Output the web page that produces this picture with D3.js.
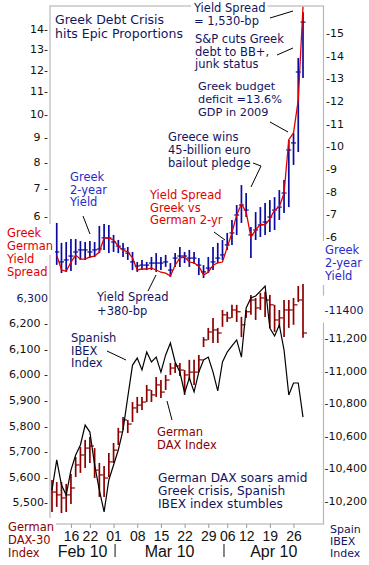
<!DOCTYPE html>
<html>
<head>
<meta charset="utf-8">
<script src="https://cdn.jsdelivr.net/npm/d3@7"></script>
<style>
  body { margin: 0; background: #fff; }
  svg { display: block; font-family: "DejaVu Sans", Verdana, sans-serif; }
  .narrow { font-family: "Liberation Sans Narrow", "Liberation Sans", Arial, sans-serif; font-stretch: condensed; }
</style>
</head>
<body>
<div id="chart"></div>
<script>
"use strict";

// trading days, Feb 10 - Apr 28 2010
var dates = ["2010-02-10","2010-02-11","2010-02-12","2010-02-15","2010-02-16","2010-02-17","2010-02-18","2010-02-19",
  "2010-02-22","2010-02-23","2010-02-24","2010-02-25","2010-02-26","2010-03-01","2010-03-02","2010-03-03","2010-03-04",
  "2010-03-05","2010-03-08","2010-03-09","2010-03-10","2010-03-11","2010-03-12","2010-03-15","2010-03-16","2010-03-17",
  "2010-03-18","2010-03-19","2010-03-22","2010-03-23","2010-03-24","2010-03-25","2010-03-26","2010-03-29","2010-03-30",
  "2010-03-31","2010-04-01","2010-04-06","2010-04-07","2010-04-08","2010-04-09","2010-04-12","2010-04-13","2010-04-14",
  "2010-04-15","2010-04-16","2010-04-19","2010-04-20","2010-04-21","2010-04-22","2010-04-23","2010-04-26","2010-04-27",
  "2010-04-28"];
var tickDates = ["2010-02-16","2010-02-22","2010-03-01","2010-03-08","2010-03-15","2010-03-22","2010-03-29",
  "2010-04-06","2010-04-12","2010-04-19","2010-04-26"];
var monthLabels = ["Feb 10", "Mar 10", "Apr 10"];
var monthStarts = ["2010-02-10", "2010-03-01", "2010-04-01"];

// Greek 2-year yield, % (right axis, top panel)
var greekHigh = [null,6.62,5.74,5.78,5.91,5.91,5.82,5.78,5.82,5.78,6.49,6.57,6.53,6.09,5.87,5.74,5.56,5.34,4.90,4.99,
  4.90,5.12,5.29,5.12,5.21,4.85,5.29,5.56,5.34,5.43,5.34,5.07,4.76,5.12,5.56,5.74,5.87,6.18,6.75,7.41,8.29,7.94,6.44,
  7.10,7.32,7.50,7.63,7.76,8.07,8.51,10.28,10.59,13.90,15.92];
var greekLow = [null,4.77,4.41,4.46,4.50,4.77,4.99,4.99,5.07,5.12,5.29,5.43,5.29,5.34,5.29,5.12,4.99,4.54,4.46,4.54,
  4.54,4.54,4.46,4.54,4.68,4.24,4.68,4.68,4.85,4.68,4.81,4.32,4.19,4.41,4.54,4.85,4.99,5.43,5.65,6.09,6.62,6.88,5.07,
  5.87,6.00,6.09,6.22,6.31,6.75,7.06,7.32,9.18,9.75,13.01];
var greekClose = [null,5.34,4.90,4.99,5.16,5.34,5.43,5.43,5.34,5.43,5.47,5.96,5.96,5.78,5.60,5.47,5.29,4.90,4.72,4.76,
  4.76,4.85,4.85,4.85,4.90,4.54,5.07,5.16,5.16,5.07,5.07,4.76,4.46,4.63,4.90,5.07,5.21,5.65,6.18,6.97,7.41,7.19,6.09,
  6.31,6.53,6.66,6.88,7.19,7.32,7.94,9.84,10.15,13.28,15.48];

// Greek - German 2-yr yield spread, % (left axis, top panel)
var spread = [null,4.70,4.23,4.19,4.48,4.70,4.57,4.57,4.64,4.67,4.80,5.26,5.26,5.19,4.99,4.86,4.80,4.61,4.23,4.26,
  4.26,4.29,4.23,4.16,4.13,4.04,4.38,4.61,4.64,4.48,4.45,4.35,4.07,4.16,4.38,4.45,4.48,4.96,5.43,6.05,6.44,6.15,5.29,
  5.53,5.73,5.70,5.91,6.22,6.33,6.83,8.90,9.18,10.61,15.2];

// German DAX-30 (left axis, bottom panel)
var daxHigh = [5587,5579,5579,5572,5611,5677,5716,5744,5755,5712,5654,5642,5693,5732,5791,5834,5822,5892,5912,5912,
  5959,5939,5990,5978,5998,6045,6045,6045,6017,6057,6057,6076,6146,6182,6221,6182,6252,6245,6272,6272,6225,6252,6311,
  6299,6319,6323,6311,6272,6252,6291,6291,6299,6346,6354];
var daxLow = [5462,5482,5458,5462,5493,5599,5615,5634,5654,5595,5521,5521,5599,5654,5724,5783,5771,5814,5849,5861,
  5892,5892,5912,5908,5939,5998,6006,5994,5920,5978,5959,6009,6107,6135,6123,6123,6186,6205,6221,6205,6146,6221,6233,
  6213,6252,6225,6182,6166,6182,6146,6182,6194,6283,6143];
var daxClose = [5540,5529,5517,5529,5556,5646,5685,5712,5720,5626,5607,5595,5658,5704,5775,5822,5806,5869,5880,5892,
  5939,5920,5959,5931,5978,6025,6033,6017,5998,6009,6009,6057,6135,6166,6174,6162,6233,6221,6252,6245,6194,6245,6291,
  6260,6299,6291,6272,6213,6221,6252,6252,6272,6291,6162];

// Spanish IBEX (right axis, bottom panel)
var ibex = [10267,10452,10298,10237,10390,10482,10544,10666,10623,10421,10267,10133,10329,10421,10513,10636,10838,
  11034,11077,11004,11114,11053,11083,10991,11096,11169,11053,10991,10863,10955,10869,10991,11065,11083,10991,10875,
  11053,11114,11151,11188,11083,11384,11445,11458,11488,11519,11261,11212,11280,11126,10850,10924,10924,10715];

var spreadTicks = [6, 7, 8, 9, 10, 11, 12, 13, 14];
var yieldTicks = [6, 7, 8, 9, 10, 11, 12, 13, 14, 15];
var daxTicks = [5500, 5600, 5700, 5800, 5900, 6000, 6100, 6200, 6300];
var ibexTicks = [10200, 10400, 10600, 10800, 11000, 11200, 11400];

var NAVY = "#14145e", RED = "#e00000", BLUE = "#2b2bc8", DARKRED = "#8b0000";

// annotations: text blocks and leader lines
var notes = [
  { lines: ["Greek Debt Crisis", "hits Epic Proportions"], x: 55, y: 24, lh: 13.5, size: 12.5, color: NAVY },
  { lines: ["Yield Spread", "= 1,530-bp"], x: 194, y: 12, lh: 13, color: NAVY, bg: true },
  { lines: ["S&P cuts Greek", "debt to BB+,", "junk status"], x: 195, y: 43, lh: 12.7, color: NAVY },
  { lines: ["Greek budget", "deficit =13.6%", "GDP in 2009"], x: 198, y: 90, lh: 12.9, size: 11.3, color: NAVY },
  { lines: ["Greece wins", "45-billion euro", "bailout pledge"], x: 168, y: 141, lh: 13, color: NAVY },
  { lines: ["Greek", "2-year", "Yield"], x: 70, y: 181, lh: 12.7, color: BLUE },
  { lines: ["Yield Spread", "Greek vs", "German 2-yr"], x: 150, y: 199, lh: 12.7, color: RED },
  { lines: ["Greek", "German"], x: 7, y: 237, lh: 13, color: RED, bg: true },
  { lines: ["Yield", "Spread"], x: 7, y: 263, lh: 13, color: RED },
  { lines: ["Greek", "2-year", "Yield"], x: 325, y: 254, lh: 13, color: BLUE, bg: true },
  { lines: ["Yield Spread", "+380-bp"], x: 97, y: 301, lh: 13.5, color: NAVY },
  { lines: ["Spanish", "IBEX", "Index"], x: 71, y: 342, lh: 12.5, color: NAVY },
  { lines: ["German", "DAX Index"], x: 157, y: 436, lh: 12.7, color: DARKRED },
  { lines: ["German DAX soars amid", "Greek crisis, Spanish", "IBEX index stumbles"], x: 158, y: 482, lh: 12.8, size: 12.2, color: NAVY },
  { lines: ["German", "DAX-30", "Index"], x: 8, y: 531, lh: 13, color: DARKRED, bg: true },
  { lines: ["Spain", "IBEX", "Index"], x: 330, y: 533, lh: 12.2, size: 11, color: NAVY }
];
var leaders = [
  [[270, 18], [293, 11]],
  [[277, 55], [293, 48]],
  [[270, 122], [288, 132]],
  [[253, 163], [261, 166], [251, 187]],
  [[83, 216], [90, 234]],
  [[214, 232], [225, 240]],
  [[148, 291], [156, 275]],
  [[107, 351], [126, 360]],
  [[167, 401], [172, 420]]
];

var width = 369, height = 565;
var plot = { left: 50, right: 323.5, top: 6, bottom: 524 };

var svg = d3.select("#chart").append("svg")
  .attr("width", width).attr("height", height);

svg.append("rect").attr("width", width).attr("height", height).attr("fill", "#fff");

// frame
svg.append("rect")
  .attr("x", plot.left).attr("y", plot.top)
  .attr("width", plot.right - plot.left).attr("height", plot.bottom - plot.top)
  .attr("fill", "none").attr("stroke", "#b8b8b8").attr("stroke-width", 1.2);

// scales
var x = d3.scalePoint().domain(dates).range([52, 303]);

var SPREAD_SHIFT = 10.5;  // the left spread axis is compressed toward the top
var ySpreadLog = d3.scaleLog().domain([6 + SPREAD_SHIFT, 14 + SPREAD_SHIFT]).range([216.3, 29.3]);
function ySpread(v) { return ySpreadLog(v + SPREAD_SHIFT); }

var yYield = d3.scaleLinear().domain([6, 15]).range([237, 33]);
var yDax = d3.scaleLinear().domain([5500, 6300]).range([502.3, 297.7]);
var yIbex = d3.scaleLinear().domain([10200, 11200]).range([501, 338]);

var fmt = d3.format(",");

function styleAxis(g, color) {
  g.select(".domain").remove();
  g.selectAll("text").attr("fill", color || "#111").attr("font-size", 11)
    .attr("font-family", "\"DejaVu Sans\", Verdana, sans-serif");
}

// axes, top panel
svg.append("g")
  .attr("transform", "translate(" + (plot.left - 1) + ",0)")
  .call(d3.axisLeft(ySpreadLog)
    .tickValues(spreadTicks.map(function (t) { return t + SPREAD_SHIFT; }))
    .tickSize(0).tickPadding(1)
    .tickFormat(function (d) {
      var v = Math.round(d - SPREAD_SHIFT);
      return v < 10 ? v + " -" : v + "-";
    }))
  .call(styleAxis);

svg.append("g")
  .attr("transform", "translate(" + (plot.right + 2.5) + ",0)")
  .call(d3.axisRight(yYield).tickValues(yieldTicks).tickSize(0).tickPadding(0)
    .tickFormat(function (d) { return "-" + d; }))
  .call(styleAxis);

// axes, bottom panel
svg.append("g")
  .attr("transform", "translate(" + (plot.left - 1) + ",0)")
  .call(d3.axisLeft(yDax).tickValues(daxTicks).tickSize(0).tickPadding(1)
    .tickFormat(function (d) { return d === 6300 ? "6,300  " : fmt(d) + (d === 5500 ? "-" : " -"); }))
  .call(styleAxis)
  .selectAll("text").filter(function (d) { return d === 6300; }).attr("fill", NAVY);

var ibexAxis = svg.append("g")
  .attr("transform", "translate(" + (plot.right + 1) + ",0)")
  .call(d3.axisRight(yIbex).tickValues(ibexTicks).tickSize(0).tickPadding(0)
    .tickFormat(function (d) { return d === 11400 ? "-11400" : "-" + fmt(d); }))
  .call(styleAxis);
ibexAxis.selectAll(".tick").filter(function (d) { return d === 11400; })
  .each(function () {
    var t = d3.select(this).select("text").attr("fill", NAVY).attr("dy", "0.7em");
    var b = t.node().getBBox();
    d3.select(this).insert("rect", "text")
      .attr("x", b.x - 2).attr("y", b.y - 8).attr("width", b.width + 4).attr("height", b.height + 14)
      .attr("fill", "#fff");
  });

// x axis
var xAxis = svg.append("g")
  .attr("transform", "translate(0," + plot.bottom + ")")
  .call(d3.axisBottom(x).tickValues(tickDates).tickSize(4)
    .tickFormat(function (d) { return d.slice(8); }));
xAxis.select(".domain").remove();
xAxis.selectAll("line").attr("stroke", "#999");
xAxis.selectAll("text").attr("class", "narrow").attr("font-size", 14).attr("fill", "#111");

// month row
var monthX = monthStarts.map(function (d, i) {
  var a = i === 0 ? plot.left : x(d) + 1.5;
  var b = i < monthStarts.length - 1 ? x(monthStarts[i + 1]) + 1.5 : plot.right;
  return (a + b) / 2;
});
svg.append("g").selectAll("text").data(monthLabels).enter().append("text")
  .attr("class", "narrow")
  .attr("x", function (d, i) { return monthX[i]; })
  .attr("y", 556.5)
  .attr("text-anchor", "middle").attr("font-size", 16).attr("fill", "#111")
  .text(function (d) { return d; });
svg.append("g").selectAll("line").data(monthStarts.slice(1)).enter().append("line")
  .attr("x1", function (d) { return x(d) + 1.5; }).attr("x2", function (d) { return x(d) + 1.5; })
  .attr("y1", 544).attr("y2", 557)
  .attr("stroke", "#111").attr("stroke-width", 1);

// Greek 2-yr yield HLC bars
var idx = d3.range(dates.length);
var greekIdx = idx.filter(function (i) { return greekHigh[i] != null; });
var gBars = svg.append("g").attr("stroke", "#0a0a9e");
gBars.selectAll("line.hl").data(greekIdx).enter().append("line")
  .attr("class", "hl")
  .attr("x1", function (i) { return x(dates[i]); }).attr("x2", function (i) { return x(dates[i]); })
  .attr("y1", function (i) { return yYield(greekHigh[i]); })
  .attr("y2", function (i) { return yYield(greekLow[i]); })
  .attr("stroke-width", 1.7);
gBars.selectAll("line.cl").data(greekIdx).enter().append("line")
  .attr("class", "cl")
  .attr("x1", function (i) { return x(dates[i]) - 2.5; }).attr("x2", function (i) { return x(dates[i]) + 2.5; })
  .attr("y1", function (i) { return yYield(greekClose[i]); })
  .attr("y2", function (i) { return yYield(greekClose[i]); })
  .attr("stroke-width", 1.2);

// spread line
var spreadLine = d3.line()
  .defined(function (i) { return spread[i] != null; })
  .x(function (i) { return x(dates[i]); })
  .y(function (i) { return ySpread(spread[i]); });
svg.append("path").datum(idx)
  .attr("d", spreadLine)
  .attr("fill", "none").attr("stroke", RED).attr("stroke-width", 1.3);

// DAX HLC bars
var dBars = svg.append("g").attr("stroke", DARKRED);
dBars.selectAll("line.hl").data(idx).enter().append("line")
  .attr("class", "hl")
  .attr("x1", function (i) { return x(dates[i]); }).attr("x2", function (i) { return x(dates[i]); })
  .attr("y1", function (i) { return yDax(daxHigh[i]); })
  .attr("y2", function (i) { return yDax(daxLow[i]); })
  .attr("stroke-width", 1.7);
dBars.selectAll("line.cl").data(idx).enter().append("line")
  .attr("class", "cl")
  .attr("x1", function (i) { return x(dates[i]); }).attr("x2", function (i) { return x(dates[i]) + 4; })
  .attr("y1", function (i) { return yDax(daxClose[i]); })
  .attr("y2", function (i) { return yDax(daxClose[i]); })
  .attr("stroke-width", 1.2);

// IBEX line
svg.append("path").datum(idx)
  .attr("d", d3.line().x(function (i) { return x(dates[i]); }).y(function (i) { return yIbex(ibex[i]); }))
  .attr("fill", "none").attr("stroke", "#000").attr("stroke-width", 1.2);

// leader lines
svg.append("g").selectAll("path").data(leaders).enter().append("path")
  .attr("d", d3.line())
  .attr("fill", "none").attr("stroke", "#000").attr("stroke-width", 1);

// annotation text
notes.forEach(function (n) {
  var g = svg.append("g");
  var t = g.append("text")
    .attr("font-size", n.size || 11.5)
    .attr("fill", n.color);
  n.lines.forEach(function (s, k) {
    t.append("tspan").attr("x", n.x).attr("y", n.y + k * n.lh).text(s);
  });
  if (n.bg) {
    var b = t.node().getBBox();
    g.insert("rect", "text")
      .attr("x", b.x - 2).attr("y", b.y - 2)
      .attr("width", b.width + 4).attr("height", b.height + 4)
      .attr("fill", "#fff");
  }
});
</script>
</body>
</html>
